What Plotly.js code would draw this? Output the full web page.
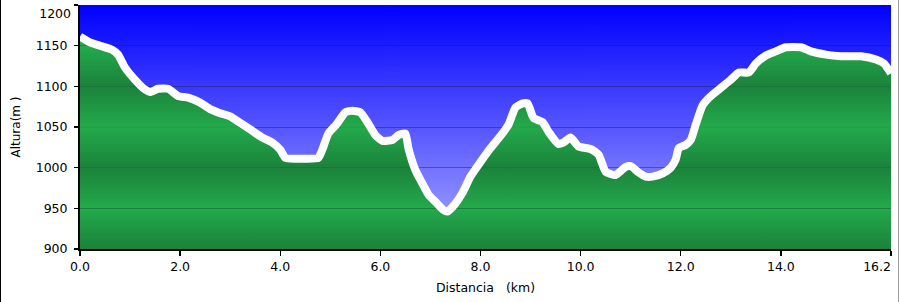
<!DOCTYPE html>
<html>
<head>
<meta charset="utf-8">
<script src="https://cdn.plot.ly/plotly-3.0.1.min.js"></script>
<style>
  html, body { margin: 0; padding: 0; background: #fff; }
  #wrap { position: relative; width: 899px; height: 302px; }
  #chart { width: 899px; height: 302px; }
  #frame { position: absolute; left: 0; top: 0; width: 899px; height: 302px; box-sizing: border-box;
           border-left: 1px solid #000; border-right: 1px solid #9a9a9a; pointer-events: none; }
</style>
</head>
<body>
<div id="wrap"><div id="chart"></div><div id="frame"></div></div>
<script>
// Distance along the route (km)
const distanceKm = [0.0, 0.2, 0.4, 0.64, 0.76, 0.9, 1.1, 1.3, 1.4, 1.56, 1.76, 1.96, 2.16, 2.4, 2.6, 2.8, 3.0, 3.2, 3.4, 3.64, 3.84, 4.0, 4.1, 4.3, 4.5, 4.76, 4.84, 4.96, 5.12, 5.3, 5.44, 5.6, 5.76, 5.9, 6.04, 6.24, 6.36, 6.5, 6.56, 6.7, 6.8, 6.96, 7.1, 7.26, 7.34, 7.5, 7.64, 7.8, 8.0, 8.2, 8.4, 8.56, 8.7, 8.84, 8.94, 9.06, 9.24, 9.36, 9.56, 9.66, 9.8, 9.96, 10.2, 10.36, 10.5, 10.7, 10.9, 11.0, 11.16, 11.3, 11.44, 11.64, 11.8, 11.9, 11.96, 12.1, 12.2, 12.3, 12.44, 12.6, 12.8, 13.0, 13.16, 13.36, 13.5, 13.7, 13.9, 14.1, 14.4, 14.6, 14.9, 15.2, 15.6, 15.9, 16.06, 16.2];
// Altitude (m)
const altitudeM = [1161, 1154, 1150, 1145, 1139, 1123, 1108, 1096, 1093, 1097, 1097, 1088, 1086, 1080, 1072, 1067, 1063, 1055, 1047, 1037, 1031, 1022, 1012, 1011, 1011, 1012, 1022, 1042, 1053, 1068, 1070, 1068, 1054, 1040, 1033, 1034, 1040, 1042, 1024, 997, 985, 967, 958, 948, 946, 956, 969, 989, 1007, 1024, 1039, 1053, 1074, 1079, 1079, 1061, 1056, 1044, 1029, 1031, 1037, 1026, 1023, 1016, 995, 991, 1001, 1002, 994, 989, 989, 993, 1000, 1010, 1024, 1028, 1034, 1053, 1077, 1088, 1098, 1108, 1117, 1117, 1128, 1138, 1143, 1148, 1148, 1143, 1139, 1137, 1137, 1133, 1128, 1116];
// Axis ticks (the end labels are drawn on overlay axes so they stay inside the picture)
const xTickVals = [0, 2, 4, 6, 8, 10, 12, 14, 16.2];
const xTickText = ['0.0', '2.0', '4.0', '6.0', '8.0', '10.0', '12.0', '14.0', ''];
const xEndVals = [16.2];
const xEndText = ['16.2'];
const yTickVals = [900, 950, 1000, 1050, 1100, 1150, 1200];
const yTickText = ['900', '950', '1000', '1050', '1100', '1150', ''];
const yEndVals = [1200];
const yEndText = ['1200'];

// ---- styling helpers ----
function hex(c) { return [parseInt(c.slice(1,3),16), parseInt(c.slice(3,5),16), parseInt(c.slice(5,7),16)]; }
function rgb(a) { return 'rgb(' + a.map(v => Math.round(v)).join(',') + ')'; }
const DARK = hex('#1b823b'), LIGHT = hex('#23aa4b'), GRID_G = hex('#18703a');
const Y0 = 900, Y1 = 1200;
const bandPts = [[900, DARK], [950, LIGHT], [1000, DARK], [1050, LIGHT], [1100, DARK], [1150, LIGHT], [1200, DARK]];
function colAt(v) {
  for (let i = 0; i < bandPts.length - 1; i++) {
    const [a, ca] = bandPts[i], [b, cb] = bandPts[i + 1];
    if (v >= a && v <= b) { const t = (v - a) / (b - a); return ca.map((x, k) => x + (cb[k] - x) * t); }
  }
  return bandPts[bandPts.length - 1][1];
}
const scale = [];
const gridVals = [950, 1000, 1050, 1100, 1150];
let marks = [900];
gridVals.forEach(g => { marks.push(g - 0.75, g - 0.7, g + 0.7, g + 0.75); });
bandPts.forEach(p => marks.push(p[0]));
marks.push(1200);
marks = Array.from(new Set(marks)).sort((a, b) => a - b);
marks.forEach(v => {
  const inGrid = gridVals.some(g => Math.abs(v - g) <= 0.7);
  scale.push([(v - Y0) / (Y1 - Y0), inGrid ? rgb(GRID_G) : rgb(colAt(v))]);
});

// background gradient image
const cv = document.createElement('canvas');
cv.width = 4; cv.height = 256;
const ctx = cv.getContext('2d');
const gr = ctx.createLinearGradient(0, 0, 0, 256);
gr.addColorStop(0, 'rgb(0,0,255)');
gr.addColorStop(1, 'rgb(172,172,255)');
ctx.fillStyle = gr; ctx.fillRect(0, 0, 4, 256);
const bgURL = cv.toDataURL('image/png');

const FONT = 'DejaVu Sans, Verdana, sans-serif';
const TICKFONT = { family: FONT, size: 12.5, color: '#000' };

const trace = {
  type: 'scatter', mode: 'lines',
  x: distanceKm, y: altitudeM,
  line: { color: '#ffffff', width: 8, shape: 'spline', smoothing: 0.5 },
  fill: 'tozeroy',
  fillgradient: { type: 'vertical', start: Y0, stop: Y1, colorscale: scale },
  hoverinfo: 'x+y', showlegend: false
};
// empty helper trace so the overlay axes (end labels only) are created
const helper = { type: 'scatter', mode: 'none', x: [], y: [], xaxis: 'x2', yaxis: 'y2',
                 showlegend: false, hoverinfo: 'skip' };

const layout = {
  width: 899, height: 302,
  margin: { l: 80, r: 8, t: 5, b: 53, pad: 0 },
  paper_bgcolor: '#ffffff', plot_bgcolor: '#4040ff',
  font: { family: FONT, size: 12.5, color: '#000' },
  showlegend: false,
  images: [{ source: bgURL, xref: 'paper', yref: 'paper', x: 0, y: 1, sizex: 1, sizey: 1,
             xanchor: 'left', yanchor: 'top', sizing: 'stretch', layer: 'below' }],
  xaxis: {
    range: [0, 16.2], tickmode: 'array', tickvals: xTickVals, ticktext: xTickText,
    showgrid: false, zeroline: false, showline: true, linecolor: '#000', linewidth: 2,
    ticks: 'outside', ticklen: 5, tickwidth: 1.5, tickcolor: '#000',
    tickfont: TICKFONT,
    title: { text: 'Distancia\u00a0\u00a0\u00a0(km)', font: { family: FONT, size: 12.5, color: '#000' }, standoff: 10 },
    fixedrange: true
  },
  xaxis2: {
    overlaying: 'x', anchor: 'y', side: 'bottom',
    range: [0, 16.2], tickmode: 'array', tickvals: xEndVals, ticktext: xEndText,
    ticklabelposition: 'outside left', ticklabelstandoff: 8,
    showgrid: false, zeroline: false, showline: false, ticks: '',
    tickfont: TICKFONT, fixedrange: true
  },
  yaxis: {
    range: [900, 1200], tickmode: 'array', tickvals: yTickVals, ticktext: yTickText,
    showgrid: true, gridcolor: 'rgba(30,30,70,0.45)', gridwidth: 1,
    zeroline: false, showline: true, linecolor: '#000', linewidth: 2,
    ticks: 'outside', ticklen: 4, tickwidth: 1.5, tickcolor: '#000',
    ticklabelstandoff: 4,
    tickfont: TICKFONT,
    title: { text: 'Altura(m\u00a0)', font: { family: FONT, size: 12, color: '#000' }, standoff: 12 },
    fixedrange: true
  },
  yaxis2: {
    overlaying: 'y', anchor: 'x', side: 'left',
    range: [900, 1200], tickmode: 'array', tickvals: yEndVals, ticktext: yEndText,
    ticklabelposition: 'outside bottom',
    showgrid: false, zeroline: false, showline: false, ticks: '',
    ticklabelstandoff: 8,
    tickfont: TICKFONT, fixedrange: true
  }
};

Plotly.newPlot('chart', [trace, helper], layout, { displayModeBar: false, staticPlot: true });
</script>
</body>
</html>
